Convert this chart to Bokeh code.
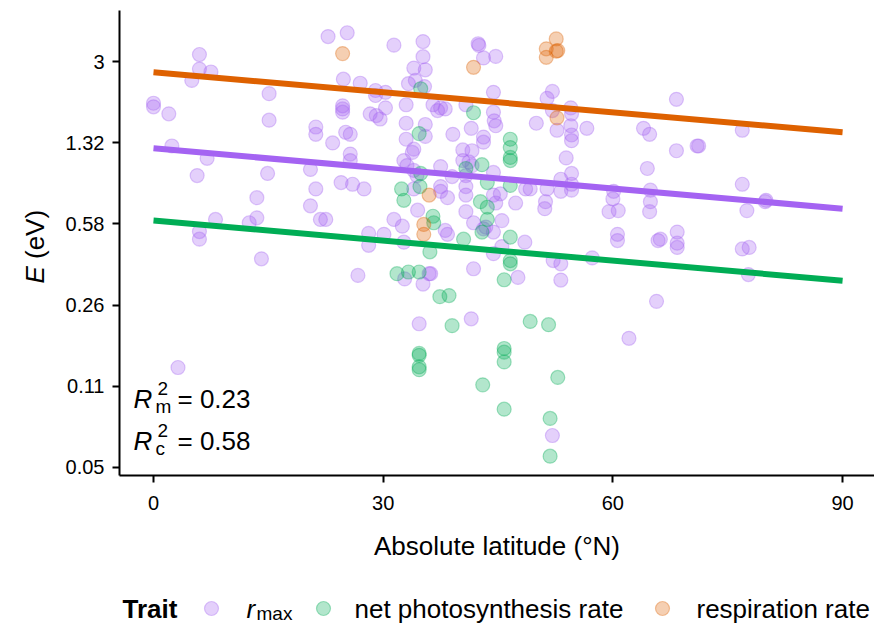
import numpy as np
from bokeh.plotting import figure
from bokeh.models import Range1d, FixedTicker, Label
from bokeh.layouts import column, row
from bokeh.embed import file_html
from bokeh.resources import INLINE
from bokeh.core.properties import value

# ---------------- data ----------------
rmax_lat = [6.0, 6.0, 7.5, 5.0, 15.1, 0.0, 0.0, 2.0, 15.1, 21.2, 21.2, 2.4, 7.0, 5.7, 14.9, 20.5,
            21.2, 13.5, 20.5, 8.1, 13.5, 12.5, 6.0, 6.0, 21.8, 14.1, 3.2, 22.8, 25.3, 31.4, 35.2,
            35.2, 42.4, 42.5, 43.1, 44.7, 34.0, 35.5, 24.8, 27.0, 33.3, 34.2, 35.4, 29.0, 29.0,
            30.3, 44.4, 24.7, 24.7, 24.7, 30.3, 33.0, 28.3, 29.1, 29.6, 36.5, 37.1, 37.5, 38.1,
            40.8, 44.4, 44.5, 44.7, 23.4, 25.1, 25.7, 33.0, 35.5, 35.5, 33.0, 34.0, 33.8, 39.1,
            41.5, 43.1, 43.1, 25.7, 25.7, 32.7, 33.1, 34.0, 34.4, 37.5, 39.0, 40.4, 41.6, 40.4,
            41.2, 41.6, 40.8, 44.4, 24.5, 26.0, 27.5, 34.0, 37.5, 37.5, 38.4, 40.8, 40.8, 44.4,
            44.7, 22.5, 34.5, 31.4, 32.5, 40.8, 41.8, 43.1, 43.4, 44.4, 28.1, 30.1, 38.1, 38.4,
            32.7, 28.1, 26.7, 32.8, 36.0, 36.2, 35.2, 41.8, 34.7, 41.5, 44.4, 45.5, 48.5, 47.6,
            52.2, 53.2, 53.2, 57.3, 65.7, 62.1, 52.1, 60.6, 65.9, 68.4, 52.1, 51.4, 52.1, 54.5,
            54.6, 50.0, 52.7, 54.5, 54.6, 54.6, 56.6, 53.9, 64.0, 64.8, 68.3, 68.3, 64.5, 48.6,
            49.2, 51.4, 53.2, 53.2, 54.6, 54.6, 54.6, 60.1, 60.0, 64.9, 64.9, 64.8, 59.5, 60.7,
            51.2, 51.1, 47.3, 45.5, 60.6, 68.4, 68.4, 66.2, 71.0, 71.2, 76.9, 76.9, 77.5, 79.9,
            80.0, 76.9, 77.8, 77.7, 45.3]
rmax_E = [3.22, 2.78, 2.70, 2.48, 2.17, 1.97, 1.90, 1.77, 1.66, 1.55, 1.44, 1.28, 1.13, 0.95, 0.97,
          1.01, 0.83, 0.76, 0.70, 0.61, 0.62, 0.59, 0.54, 0.50, 0.61, 0.41, 0.137, 3.86, 4.01, 3.54,
          3.67, 3.15, 3.59, 3.53, 3.11, 3.16, 2.81, 2.76, 2.51, 2.41, 2.40, 2.48, 2.33, 2.24, 2.13,
          2.20, 2.20, 1.92, 1.86, 1.80, 1.88, 1.94, 1.77, 1.74, 1.68, 1.94, 1.83, 1.88, 1.86, 1.94,
          1.80, 1.65, 1.57, 1.32, 1.47, 1.44, 1.61, 1.59, 1.41, 1.37, 1.24, 1.20, 1.44, 1.53, 1.40,
          1.33, 1.18, 1.105, 1.105, 1.05, 1.00, 0.95, 1.04, 0.94, 1.23, 1.22, 1.105, 1.09, 1.05,
          0.95, 0.98, 0.885, 0.87, 0.83, 0.83, 0.85, 0.81, 0.76, 0.85, 0.78, 0.78, 0.72, 0.61,
          0.67, 0.61, 0.57, 0.66, 0.59, 0.555, 0.565, 0.537, 0.53, 0.525, 0.546, 0.525, 0.485,
          0.47, 0.347, 0.335, 0.353, 0.353, 0.318, 0.371, 0.213, 0.224, 0.432, 0.464, 0.485, 0.34,
          0.403, 0.39, 0.331, 0.414, 0.267, 0.184, 0.069, 0.493, 0.493, 0.46, 2.22, 2.07, 1.83,
          1.88, 1.77, 1.61, 1.50, 1.57, 1.43, 1.35, 1.53, 1.135, 1.53, 1.44, 2.05, 1.22, 1.02,
          0.83, 0.83, 0.83, 0.915, 0.81, 0.97, 0.87, 0.82, 0.81, 0.75, 0.82, 0.73, 0.66, 0.66,
          0.667, 0.73, 0.68, 0.72, 0.603, 0.525, 0.537, 0.48, 0.50, 1.28, 1.28, 1.50, 0.87, 0.667,
          0.73, 0.74, 0.453, 0.46, 0.35, 0.79]

photo_lat = [34.9, 41.8, 34.7, 34.9, 40.8, 42.9, 43.6, 32.4, 32.7, 34.8, 42.7, 43.6, 36.5, 36.6,
             43.6, 42.9, 40.5, 36.1, 31.8, 33.3, 34.7, 37.4, 38.6, 39.0, 34.7, 34.7, 34.7, 34.7,
             43.0, 46.6, 46.6, 46.6, 46.6, 46.6, 46.6, 46.6, 46.6, 45.8, 49.2, 51.6, 45.8, 45.8,
             45.8, 52.8, 45.8, 51.8, 51.8]
photo_E = [2.28, 1.79, 1.45, 0.97, 1.02, 1.06, 0.885, 0.83, 0.74, 0.85, 0.73, 0.69, 0.63, 0.59,
           0.61, 0.537, 0.50, 0.44, 0.353, 0.359, 0.359, 0.28, 0.283, 0.209, 0.158, 0.155, 0.138,
           0.134, 0.115, 1.37, 1.26, 1.14, 1.105, 0.86, 0.51, 0.403, 0.39, 0.332, 0.218, 0.211,
           0.166, 0.160, 0.145, 0.124, 0.090, 0.082, 0.056]

resp_lat = [24.7, 41.8, 52.6, 51.3, 52.6, 52.8, 51.3, 52.7, 36.0, 35.3, 35.3]
resp_E = [3.25, 2.83, 3.77, 3.41, 3.33, 3.35, 3.13, 1.70, 0.78, 0.58, 0.525]

fit_lat = [0, 90]
rmax_fit = [1.25, 0.68]
photo_fit = [0.603, 0.329]
resp_fit = [2.69, 1.47]

x_ticks = [0, 30, 60, 90]
y_tick_labels = ["0.05", "0.11", "0.26", "0.58", "1.32", "3"]
y_tick_pos = list(np.exp(np.linspace(np.log(0.05), np.log(3.0), len(y_tick_labels))))

trait_names = ["net photosynthesis rate", "respiration rate"]
r2_values = ["0.23", "0.58"]

PURPLE = "#A463F2"
GREEN = "#00AD55"
ORANGE = "#DE6100"
FONT = "Liberation Sans"

YLAB_W = 60

# ---------------- main figure ----------------
p = figure(width=874 - YLAB_W, height=575, y_axis_type="log",
           x_range=Range1d(-4.44, 94.17), y_range=Range1d(0.0461, 5.02),
           output_backend="svg", toolbar_location=None, title_location=None,
           min_border_left=119 - YLAB_W, min_border_right=0, min_border_top=10,
           min_border_bottom=100)
p.frame_align = False
p.outline_line_color = None
p.xgrid.visible = False
p.ygrid.visible = False

for ax in (p.xaxis[0], p.yaxis[0]):
    ax.axis_line_width = 2
    ax.axis_line_color = "black"
    ax.major_tick_line_width = 2
    ax.major_tick_line_color = "black"
    ax.major_tick_out = 7
    ax.major_tick_in = 0
    ax.minor_tick_line_color = None
    ax.major_label_text_font = FONT
    ax.major_label_text_font_size = "20px"
    ax.major_label_text_color = "black"

p.xaxis.ticker = FixedTicker(ticks=x_ticks)
p.xaxis.major_label_standoff = 13
p.xaxis.axis_label = "Absolute latitude (°N)"
p.xaxis.axis_label_text_font = FONT
p.xaxis.axis_label_text_font_size = "26px"
p.xaxis.axis_label_text_font_style = "normal"
p.xaxis.axis_label_text_color = "black"
p.xaxis.axis_label_standoff = 18

p.yaxis.ticker = FixedTicker(ticks=y_tick_pos)
p.yaxis.major_label_overrides = {float(v): t for v, t in zip(y_tick_pos, y_tick_labels)}
p.yaxis.major_label_standoff = 8

pt = dict(size=14, fill_alpha=0.3, line_alpha=0.35, line_width=1.2)
p.scatter(rmax_lat, rmax_E, fill_color=PURPLE, line_color=PURPLE, **pt)
p.scatter(photo_lat, photo_E, fill_color=GREEN, line_color=GREEN, **pt)
p.scatter(resp_lat, resp_E, fill_color=ORANGE, line_color=ORANGE, **pt)

p.line(fit_lat, rmax_fit, line_color=PURPLE, line_width=6)
p.line(fit_lat, photo_fit, line_color=GREEN, line_width=6)
p.line(fit_lat, resp_fit, line_color=ORANGE, line_width=6)

# R^2 annotations (frame-relative screen units)
for i, (sub, val) in enumerate(zip(["m", "c"], r2_values)):
    base = 77 - 42 * i
    p.add_layout(Label(x=14, y=base, x_units="screen", y_units="screen", text="R",
                       text_font=FONT, text_font_size="26px", text_font_style="italic",
                       text_color="black", text_baseline="alphabetic"))
    p.add_layout(Label(x=36, y=base - 8, x_units="screen", y_units="screen", text=sub,
                       text_font=FONT, text_font_size="19px", text_color="black",
                       text_baseline="alphabetic"))
    p.add_layout(Label(x=38, y=base + 10, x_units="screen", y_units="screen", text="2",
                       text_font=FONT, text_font_size="19px", text_color="black",
                       text_baseline="alphabetic"))
    p.add_layout(Label(x=58, y=base, x_units="screen", y_units="screen", text="= " + val,
                       text_font=FONT, text_font_size="26px", text_color="black",
                       text_baseline="alphabetic"))

# ---------------- y-axis title strip ----------------
ylab = figure(width=YLAB_W, height=575, x_range=Range1d(0, YLAB_W), y_range=Range1d(-575, 0),
              output_backend="svg", toolbar_location=None, title_location=None,
              x_axis_location=None, y_axis_location=None,
              min_border_left=0, min_border_right=0, min_border_top=0, min_border_bottom=0)
ylab.frame_align = False
ylab.outline_line_color = None
ylab.xgrid.visible = False
ylab.ygrid.visible = False
ylab.text(x=[34], y=[-283], text=["E"], angle=np.pi / 2, text_font=value(FONT),
          text_font_size=value("26px"), text_font_style="italic", text_color="black",
          text_align="left", text_baseline="alphabetic")
ylab.text(x=[34], y=[-258.5], text=["(eV)"], angle=np.pi / 2, text_font=value(FONT),
          text_font_size=value("26px"), text_color="black",
          text_align="left", text_baseline="alphabetic")

# ---------------- legend strip ----------------
leg = figure(width=874, height=52, x_range=Range1d(0, 874), y_range=Range1d(0, 52),
             output_backend="svg", toolbar_location=None, title_location=None,
             x_axis_location=None, y_axis_location=None,
             min_border_left=0, min_border_right=0, min_border_top=0, min_border_bottom=0)
leg.frame_align = False
leg.outline_line_color = None
leg.xgrid.visible = False
leg.ygrid.visible = False

ly = 19
leg.text(x=[122], y=[ly], text=["Trait"], text_font=value(FONT), text_font_size=value("26px"),
         text_font_style="bold", text_color="black", text_baseline="middle")
leg.scatter(x=[211], y=[ly], fill_color=PURPLE, line_color=PURPLE, **pt)
leg.scatter(x=[323], y=[ly], fill_color=GREEN, line_color=GREEN, **pt)
leg.scatter(x=[662], y=[ly], fill_color=ORANGE, line_color=ORANGE, **pt)
leg.text(x=[246], y=[ly], text=["r"], text_font=value(FONT), text_font_size=value("26px"),
         text_font_style="italic", text_color="black", text_baseline="middle")
leg.text(x=[256], y=[ly - 5], text=["max"], text_font=value(FONT), text_font_size=value("19px"),
         text_color="black", text_baseline="middle")
leg.text(x=[354, 696], y=[ly, ly], text=trait_names, text_font=value(FONT),
         text_font_size=value("26px"), text_color="black", text_baseline="middle")

layout = column(row(ylab, p, spacing=0), leg, spacing=0)
open("out.html", "w").write(file_html(layout, INLINE))
